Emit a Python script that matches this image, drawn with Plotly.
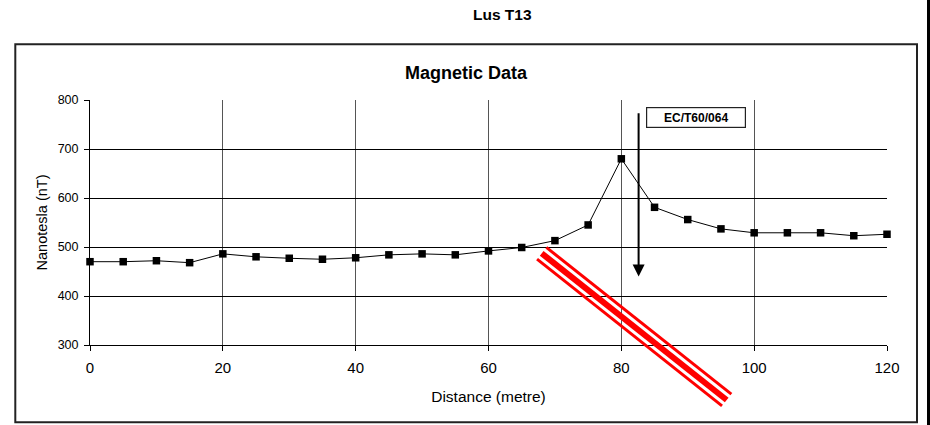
import plotly.graph_objects as go

# ---- data ----
distance = [0, 5, 10, 15, 20, 25, 30, 35, 40, 45, 50, 55, 60,
            65, 70, 75, 80, 85, 90, 95, 100, 105, 110, 115, 120]
nanotesla = [470, 470, 472, 468, 486, 480, 477, 475, 478, 484, 486, 484, 492,
             499, 513, 545, 680, 581, 556, 537, 529, 529, 529, 523, 526]
x_ticks = [0, 20, 40, 60, 80, 100, 120]
y_ticks = [300, 400, 500, 600, 700, 800]
chart_title = "Magnetic Data"
page_title = "Lus T13"
label_text = "EC/T60/064"
arrow_x = 82.6
arrow_top = 776
arrow_tip = 440

# page body margin is removed (post_script), so the figure fills the window
W, H = 930, 425
ML, MR, MT, MB = 90, 43, 100, 80
PW, PH = W - ML - MR, H - MT - MB
X_RANGE = [0, 120]
Y_RANGE = [300, 800]
FONT = "Arial, Liberation Sans, sans-serif"


def px_to_paper(px, py):
    """window pixel -> paper fraction"""
    return (px - ML) / PW, (H - MB - py) / PH


fig = go.Figure()
fig.add_trace(go.Scatter(
    x=distance, y=nanotesla, mode="lines+markers",
    line=dict(color="black", width=1),
    marker=dict(symbol="square", size=7.5, color="black"),
    showlegend=False, cliponaxis=False,
))

shapes = []
# outer chart frame
x0, y0 = px_to_paper(15.3, 422.3)
x1, y1 = px_to_paper(917, 44.3)
shapes.append(dict(type="rect", xref="paper", yref="paper", x0=x0, y0=y0, x1=x1, y1=y1,
                   line=dict(color="#222222", width=2), fillcolor="rgba(0,0,0,0)", layer="below"))
# right black edge bar
bx0, by0 = px_to_paper(927, 426)
bx1, by1 = px_to_paper(931, -1)
shapes.append(dict(type="rect", xref="paper", yref="paper", x0=bx0, y0=by0, x1=bx1, y1=by1,
                   line=dict(width=0), fillcolor="black"))

# red fault band (pixel geometry of the drawn symbol)
sx, sy, ex, ey = 541.7, 253.3, 726.7, 400.0
dx, dy = ex - sx, ey - sy
L = (dx * dx + dy * dy) ** 0.5
nx, ny = -dy / L, dx / L
for off, w in [(-7.5, 3), (0, 6), (7.5, 3)]:
    a = px_to_paper(sx + nx * off, sy + ny * off)
    b = px_to_paper(ex + nx * off, ey + ny * off)
    shapes.append(dict(type="line", xref="paper", yref="paper",
                       x0=a[0], y0=a[1], x1=b[0], y1=b[1],
                       line=dict(color="#ff0000", width=w)))

annotations = []
tx, ty = px_to_paper(502, 14)
annotations.append(dict(text="<b>%s</b>" % page_title, xref="paper", yref="paper", x=tx, y=ty,
                        showarrow=False, xanchor="center", yanchor="middle",
                        font=dict(family=FONT, size=15.5, color="black")))
mx, my = px_to_paper(466.5, 73)
annotations.append(dict(text="<b>%s</b>" % chart_title, xref="paper", yref="paper", x=mx, y=my,
                        showarrow=False, xanchor="center", yanchor="middle",
                        font=dict(family=FONT, size=18, color="black")))
# arrow
annotations.append(dict(x=arrow_x, y=arrow_tip, ax=arrow_x, ay=arrow_top,
                        xref="x", yref="y", axref="x", ayref="y", text="",
                        showarrow=True, arrowhead=2, arrowsize=1.2, arrowwidth=2,
                        arrowcolor="black"))
# label box
annotations.append(dict(text="<b>%s</b>" % label_text, x=91.3, y=765, xref="x", yref="y",
                        showarrow=False, xanchor="center", yanchor="middle",
                        width=96, height=17, bordercolor="#222222", borderwidth=1.2,
                        borderpad=1, bgcolor="white",
                        font=dict(family=FONT, size=12, color="black")))

fig.update_layout(
    width=W, height=H,
    margin=dict(l=ML, r=MR, t=MT, b=MB),
    paper_bgcolor="white", plot_bgcolor="white",
    font=dict(family=FONT, color="black"),
    shapes=shapes, annotations=annotations,
    xaxis=dict(range=X_RANGE, tickvals=x_ticks, ticks="outside", ticklen=5,
               tickcolor="black", showline=True, linecolor="black", linewidth=1,
               showgrid=True, gridcolor="#555555", gridwidth=1, zeroline=False,
               tickfont=dict(size=15, family=FONT), ticklabelstandoff=4,
               title=dict(text="Distance (metre)", font=dict(size=15.5, family=FONT), standoff=16)),
    yaxis=dict(range=Y_RANGE, tickvals=y_ticks, ticks="outside", ticklen=5,
               tickcolor="black", showline=True, linecolor="black", linewidth=1,
               showgrid=True, gridcolor="black", gridwidth=1, zeroline=False,
               tickfont=dict(size=12.5, family=FONT), ticklabelstandoff=3,
               title=dict(text="Nanotesla (nT)", font=dict(size=14.5, family=FONT), standoff=6)),
)

fig.write_html("out.html",
               config={"displayModeBar": False},
               post_script="document.body.style.margin='0';document.body.style.overflow='hidden';")
